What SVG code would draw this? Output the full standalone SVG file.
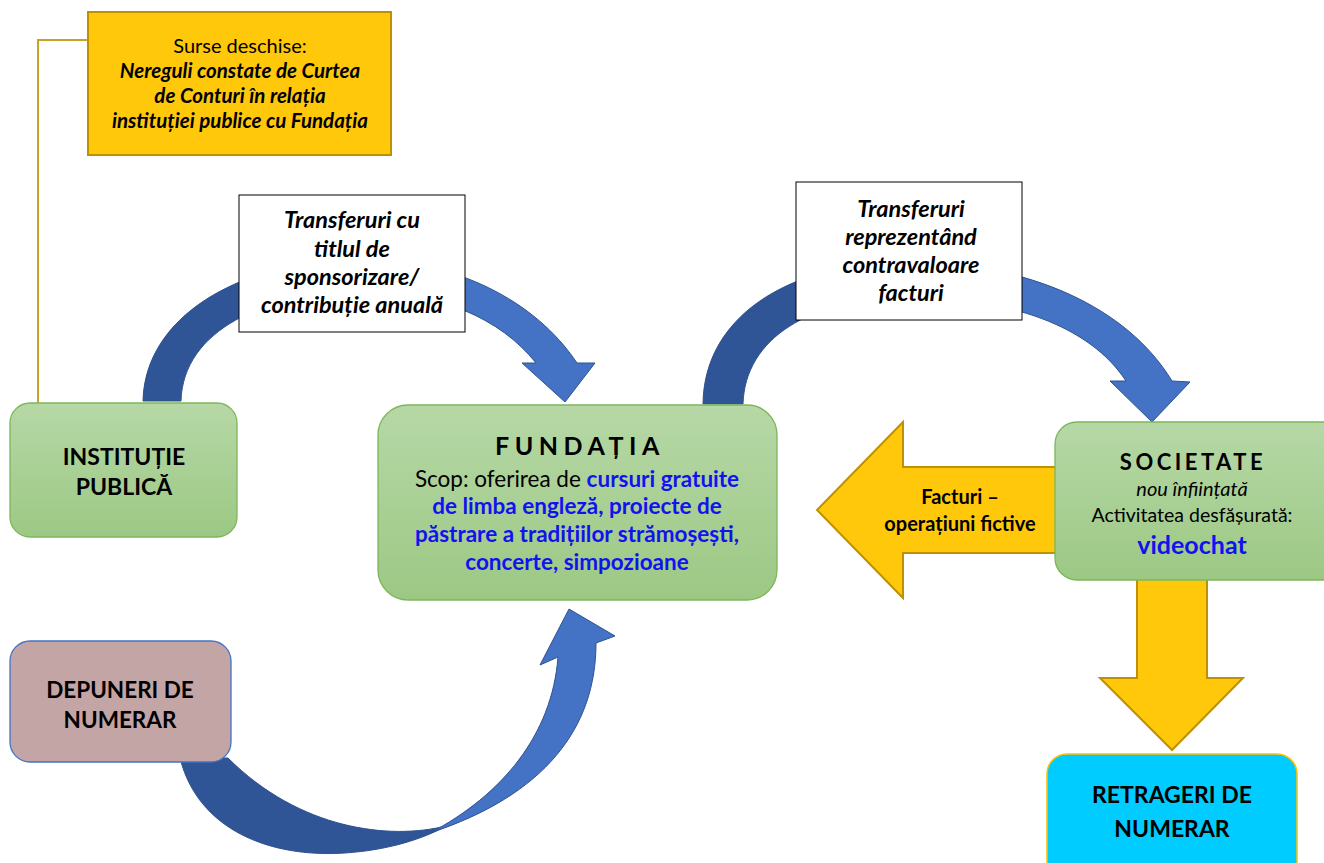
<svg xmlns="http://www.w3.org/2000/svg" width="1324" height="863" viewBox="0 0 1324 863">
  <defs>
    <linearGradient id="greenFill" x1="0" y1="0" x2="0" y2="1">
      <stop offset="0" stop-color="#B6D8A6"/>
      <stop offset="1" stop-color="#9CC884"/>
    </linearGradient>
    <style>
      .t { font-family: Lato, "Liberation Sans", sans-serif; fill: #000; text-anchor: middle; }
      .b { font-weight: bold; }
      .bi { font-weight: bold; font-style: italic; }
      .i { font-style: italic; }
      .blue { fill: #1212EE; font-weight: bold; }
      .green { fill: url(#greenFill); stroke: #7DB65A; stroke-width: 1.3; }
      .gold { fill: #FFC80B; stroke: #BF9000; stroke-width: 2; }
      .label { fill: #fff; stroke: #000; stroke-width: 1; }
      .arrowDark { fill: #2F5597; stroke: #2F528F; stroke-width: 1; }
      .arrowLight { fill: #4472C4; stroke: #2F528F; stroke-width: 1; }
    </style>
  </defs>

  <!-- connectors -->
  <g id="connectors">
    <!-- source note leader line -->
    <polyline points="90,40 38,40 38,403" fill="none" stroke="#C9A227" stroke-width="2"/>

    <!-- institution -> foundation -->
    <g id="arc-institutie-fundatie">
      <path class="arrowDark" d="M143,401 C145,318 235,262 360,258 L360,291 C265,293 183,330 181,401 Z"/>
      <path class="arrowLight" d="M359,258 C455,260 535,300 577,363 L595,363 L565,402 L522,363 L536,363 C500,318 440,292 359,291 Z"/>
    </g>

    <!-- foundation -> company -->
    <g id="arc-fundatie-societate">
      <path class="arrowDark" d="M703,404 C704,318 785,264 905,261 L905,297 C810,299 745,338 743,404 Z"/>
      <path class="arrowLight" d="M904,261 C1030,262 1128,308 1172,381 L1190,382 L1152,422 L1110,381 L1126,381 C1090,326 1010,297 904,297 Z"/>
    </g>

    <!-- cash deposits -> foundation -->
    <g id="arc-depuneri-fundatie">
      <path class="arrowDark" d="M180,758 C198,830 270,858 345,853 C390,850 425,838 446,826 C390,840 300,830 228,758 Z"/>
      <path class="arrowLight" d="M430,833 C502,795 552,735 558,657 L540,665 L569,609 L615,636 L596,643 C596,728 545,795 430,833 Z"/>
    </g>

    <!-- invoices: company -> foundation -->
    <path id="arrow-facturi" class="gold" d="M1056,467 L903,467 L903,422 L817,510 L903,598 L903,553 L1056,553"/>

    <!-- company -> cash withdrawals -->
    <path id="arrow-retrageri" class="gold" d="M1137,580 L1137,678 L1100,678 L1172,750 L1243,678 L1207,678 L1207,580"/>
  </g>

  <!-- source note -->
  <g id="node-surse">
    <rect x="88" y="12" width="303" height="143" class="gold"/>
    <text class="t" x="240" y="53" font-size="20">Surse deschise:</text>
    <text class="t bi" x="240" y="78" font-size="20.5">Nereguli constate de Curtea</text>
    <text class="t bi" x="240" y="103" font-size="20.5">de Conturi în relația</text>
    <text class="t bi" x="240" y="128" font-size="20.5">instituției publice cu Fundația</text>
  </g>

  <!-- transfer labels -->
  <g id="label-sponsorizare">
    <rect x="239" y="195" width="226" height="137" class="label"/>
    <text class="t bi" x="352" y="228" font-size="23.5">Transferuri cu</text>
    <text class="t bi" x="352" y="257" font-size="23.5">titlul de</text>
    <text class="t bi" x="352" y="285" font-size="23.5">sponsorizare/</text>
    <text class="t bi" x="352" y="313" font-size="23.5">contribuție anuală</text>
  </g>

  <g id="label-facturi">
    <rect x="796" y="182" width="226" height="138" class="label"/>
    <text class="t bi" x="911" y="217" font-size="23.5">Transferuri</text>
    <text class="t bi" x="911" y="245" font-size="23.5">reprezentând</text>
    <text class="t bi" x="911" y="273" font-size="23.5">contravaloare</text>
    <text class="t bi" x="911" y="301" font-size="23.5">facturi</text>
  </g>

  <!-- nodes -->
  <g id="node-institutie">
    <rect x="10" y="403" width="227" height="134" rx="20" class="green"/>
    <text class="t b" x="124" y="465" font-size="23">INSTITUȚIE</text>
    <text class="t b" x="124" y="495" font-size="23">PUBLICĂ</text>
  </g>

  <g id="node-fundatie">
    <rect x="378" y="405" width="399" height="195" rx="30" class="green"/>
    <text class="t b" x="580" y="455" font-size="25" letter-spacing="5.5">FUNDAȚIA</text>
    <text class="t" x="577" y="487" font-size="22.5"><tspan>Scop: oferirea de </tspan><tspan class="blue">cursuri gratuite</tspan></text>
    <text class="t blue" x="577" y="514" font-size="22.5">de limba engleză, proiecte de</text>
    <text class="t blue" x="577" y="542" font-size="22.5">păstrare a tradițiilor strămoșești,</text>
    <text class="t blue" x="577" y="570" font-size="22.5">concerte, simpozioane</text>
  </g>

  <g id="node-societate">
    <rect x="1055" y="422" width="290" height="158" rx="22" class="green"/>
    <text class="t b" x="1193" y="470" font-size="22" letter-spacing="3.5">SOCIETATE</text>
    <text class="t i" x="1192" y="496" font-size="20">nou înființată</text>
    <text class="t" x="1192" y="522" font-size="19.5">Activitatea desfășurată:</text>
    <text class="t blue" x="1192" y="554" font-size="25">videochat</text>
  </g>

  <g id="label-operatiuni">
    <text class="t b" x="960" y="504" font-size="20">Facturi –</text>
    <text class="t b" x="960" y="531" font-size="20">operațiuni fictive</text>
  </g>

  <g id="node-depuneri">
    <rect x="10" y="641" width="221" height="121" rx="20" fill="#C4A5A6" stroke="#4472C4" stroke-width="1.3"/>
    <text class="t b" x="120" y="698" font-size="22.5">DEPUNERI DE</text>
    <text class="t b" x="120" y="728" font-size="22.5">NUMERAR</text>
  </g>

  <g id="node-retrageri">
    <rect x="1047" y="754" width="250" height="130" rx="20" fill="#00CCFF" stroke="#FFC000" stroke-width="1.5"/>
    <text class="t b" x="1172" y="803" font-size="23">RETRAGERI DE</text>
    <text class="t b" x="1172" y="837" font-size="23">NUMERAR</text>
  </g>
</svg>
